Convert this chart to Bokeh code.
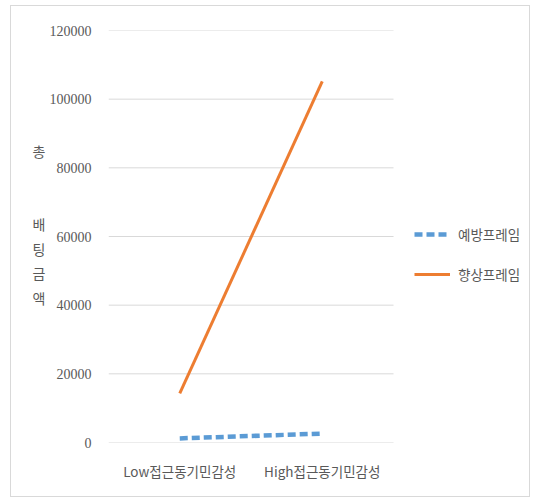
from bokeh.plotting import figure
from bokeh.models import Legend, LegendItem, FixedTicker, BasicTickFormatter, Range1d
from bokeh.embed import file_html
from bokeh.resources import INLINE

categories = ["Low접근동기민감성", "High접근동기민감성"]
prevent = [1200, 2600]
promote = [14300, 105200]
series_names = ["예방프레임", "향상프레임"]
y_ticks = [0, 20000, 40000, 60000, 80000, 100000, 120000]
y_title = "총\n\n\n배\n팅\n금\n액\n "

FONT = "Noto Sans CJK KR"
NUM_FONT = "Liberation Sans Narrow"
GRAY = "#595959"

xs = list(range(len(categories)))
x_lo = -0.5
x_hi = len(categories) - 0.5

p = figure(width=520, height=492, x_range=Range1d(x_lo, 2.398), y_range=Range1d(0, 120000),
           output_backend="svg", toolbar_location=None,
           min_border_left=97, min_border_right=10, min_border_top=24, min_border_bottom=56)
p.margin = (5, 6, 5, 10)
p.styles = {"border": "1px solid #d9d9d9", "box-sizing": "border-box"}
p.outline_line_color = None
p.xgrid.grid_line_color = None
p.ygrid.grid_line_color = None

# horizontal gridlines limited to the category span
p.segment(x0=[x_lo] * len(y_ticks), y0=y_ticks, x1=[x_hi] * len(y_ticks), y1=y_ticks,
          line_color="#d9d9d9", line_width=1)

for ax in (p.xaxis, p.yaxis):
    ax.axis_line_color = None
    ax.major_tick_line_color = None
    ax.minor_tick_line_color = None
    ax.major_label_text_color = GRAY

p.xaxis.major_label_text_font = FONT
p.xaxis.major_label_text_font_size = "13.5px"
p.yaxis.major_label_text_font = NUM_FONT
p.yaxis.major_label_text_font_size = "14px"

p.xaxis.ticker = FixedTicker(ticks=xs)
p.xaxis.major_label_overrides = {i: c for i, c in zip(xs, categories)}
p.yaxis.ticker = FixedTicker(ticks=y_ticks)
p.yaxis.formatter = BasicTickFormatter(use_scientific=False)
p.yaxis.major_label_standoff = 11
p.xaxis.major_label_standoff = 12

p.yaxis.axis_label = y_title
p.yaxis.axis_label_orientation = "horizontal"
p.yaxis.axis_label_text_font = FONT
p.yaxis.axis_label_text_font_size = "14px"
p.yaxis.axis_label_text_font_style = "normal"
p.yaxis.axis_label_text_color = GRAY
p.yaxis.axis_label_text_line_height = 1.22
p.yaxis.axis_label_standoff = 1

r1 = p.line(xs, prevent, line_color="#5b9bd5", line_width=4.5, line_dash="8 4")
r2 = p.line(xs, promote, line_color="#ed7d31", line_width=3)

legend = Legend(items=[LegendItem(label=series_names[0], renderers=[r1]),
                       LegendItem(label=series_names[1], renderers=[r2])],
                location=(306, 158), border_line_color=None, background_fill_alpha=0,
                label_text_font=FONT, label_text_font_size="13.5px", label_text_color=GRAY,
                glyph_width=36, glyph_height=20, spacing=20, label_standoff=8,
                margin=0, padding=6)
p.add_layout(legend)

open("out.html", "w").write(file_html(p, INLINE))
